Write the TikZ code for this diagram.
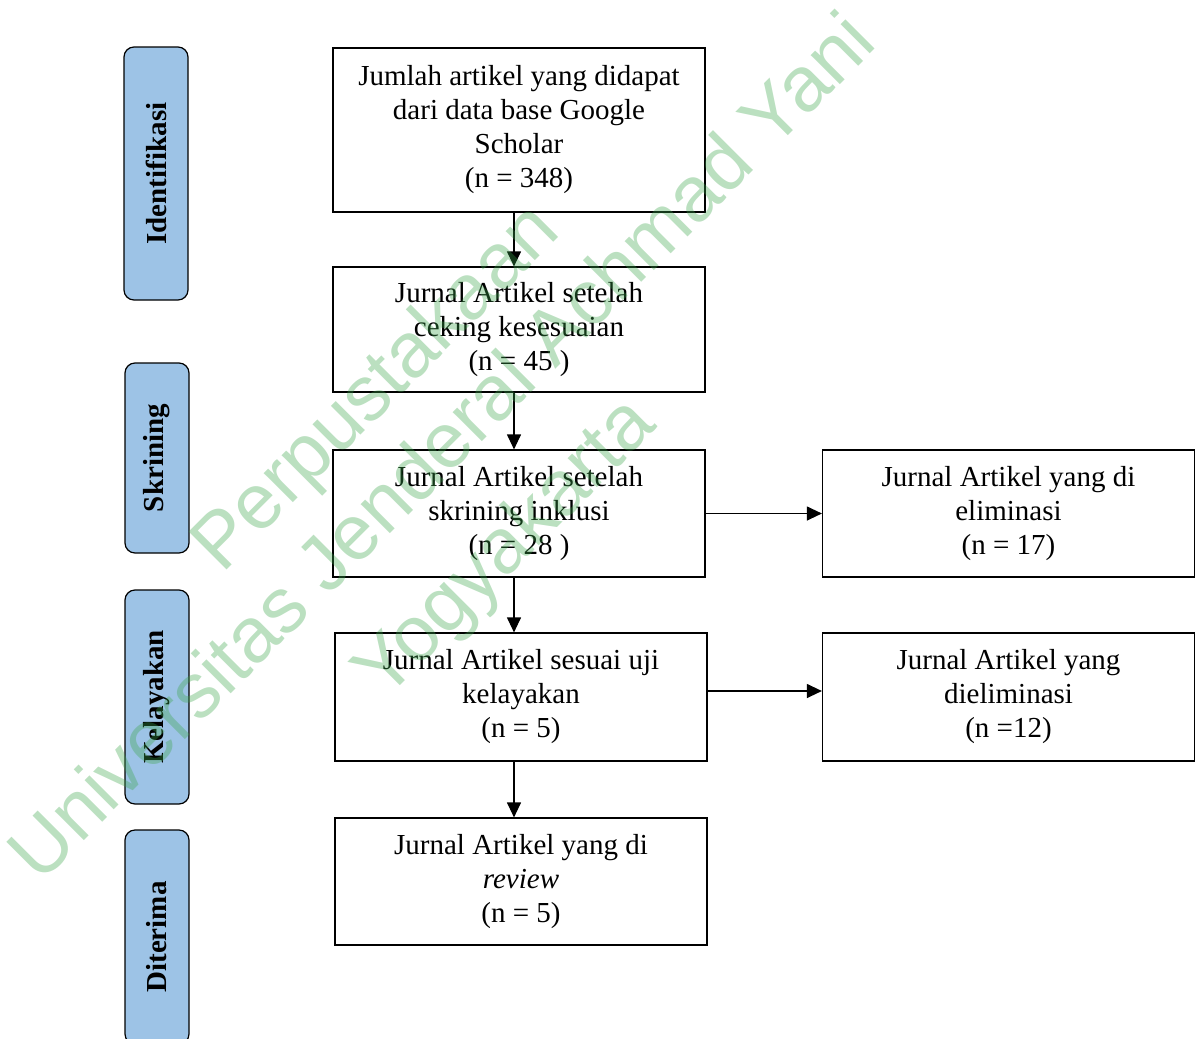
\documentclass[tikz,border=0pt]{standalone}
\usepackage{fontspec}
\setmainfont{Liberation Serif}
\newfontfamily\markfont{Liberation Sans}
\usetikzlibrary{arrows.meta}
\definecolor{tahapbiru}{RGB}{157,195,230}
\definecolor{capijo}{RGB}{60,165,75}

\begin{document}
\begin{tikzpicture}[x=0.5pt, y=-0.5pt, line width=0.6pt,
    >={Triangle[length=7.5pt,width=7pt]},
    every node/.style={font=\fontsize{14.5}{17}\selectfont},
    kotak/.style={draw, rectangle, align=center, inner sep=0pt, minimum width=186pt},
    tahap/.style={draw, rounded corners=5pt, fill=tahapbiru, rotate=90, inner sep=0pt,
      minimum height=32pt, font=\fontsize{14.5}{17}\selectfont\bfseries}]
      \tikzstyle{tanda} = [rotate=45, text=capijo, opacity=0.35, font=\markfont\fontsize{39}{42}\selectfont]
      \useasboundingbox (0,0) rectangle (1195,1039);
      \clip (0,0) rectangle (1195,1039);

      % tahapan di kiri
      \node (identifikasi) [tahap, minimum width=126.5pt] at (156,173.5) {Identifikasi};
      \node (skrining) [tahap, minimum width=95pt] at (157,458) {Skrining};
      \node (kelayakan) [tahap, minimum width=107pt] at (157,697) {Kelayakan};
      \node (diterima) [tahap, minimum width=107pt] at (157,937) {Diterima};

      % alur artikel
      \node (awal) [kotak, minimum height=82pt] at (519,130)
        {Jumlah artikel yang didapat\\dari data base Google\\Scholar\\(n = 348)};
      \node (ceking) [kotak, minimum height=62.5pt] at (519,329.5)
        {Jurnal Artikel setelah\\ceking kesesuaian\\(n = 45 )};
      \node (inklusi) [kotak, minimum height=63.5pt] at (519,513.5)
        {Jurnal Artikel setelah\\skrining inklusi\\(n = 28 )};
      \node (layak) [kotak, minimum height=64pt] at (521,697)
        {Jurnal Artikel sesuai uji\\kelayakan\\(n = 5)};
      \node (review) [kotak, minimum height=63.5pt] at (521,881.5)
        {Jurnal Artikel yang di\\\textit{review}\\(n = 5)};
      \node (elim1) [kotak, minimum height=63.5pt] at (1008.5,513.5)
        {Jurnal Artikel yang di\\eliminasi\\(n = 17)};
      \node (elim2) [kotak, minimum height=64pt] at (1008.5,697)
        {Jurnal Artikel yang\\dieliminasi\\(n =12)};

      \coordinate (sumbu) at (514,0);
      \draw[->] (awal.south -| sumbu) -- (ceking.north -| sumbu);
      \draw[->] (ceking.south -| sumbu) -- (inklusi.north -| sumbu);
      \draw[->] (inklusi.south -| sumbu) -- (layak.north -| sumbu);
      \draw[->] (layak.south -| sumbu) -- (review.north -| sumbu);
      \draw[->] (inklusi.east) -- (elim1.west);
      \draw[->] ([yshift=3pt]layak.east) -- ([yshift=3pt]elim2.west);

      % watermark
      \node (wm1) [tanda] at (378,390) {Perpustakaan};
      \node (wm2) [tanda] at (440,445) {Universitas Jenderal Achmad Yani};
      \node (wm3) [tanda] at (507,550) {Yogyakarta};
    \end{tikzpicture}
\end{document}
